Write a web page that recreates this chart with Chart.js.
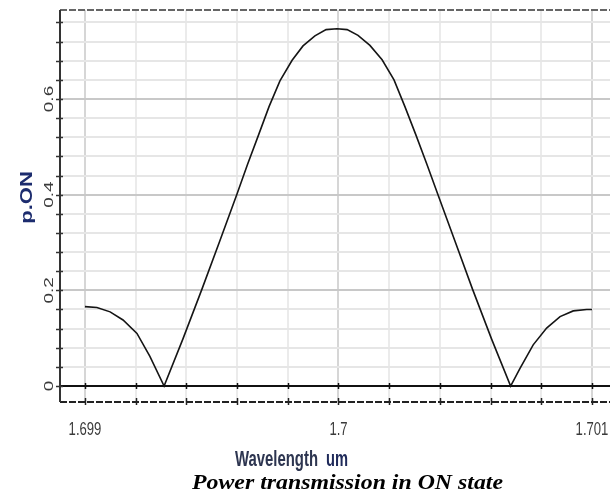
<!DOCTYPE html>
<html><head><meta charset="utf-8">
<script src="https://cdn.jsdelivr.net/npm/chart.js@4.4.1/dist/chart.umd.min.js"></script>
<style>html,body{margin:0;padding:0;background:#fff;}canvas{display:block;}</style>
</head><body>
<canvas id="c" width="610" height="493"></canvas>
<script>
// ---- data ----
const wavelength = [1.699000, 1.699047, 1.699099, 1.699150, 1.699205, 1.699256, 1.699312, 1.699386, 1.699461, 1.699531,
  1.699600, 1.699641, 1.699684, 1.699726, 1.699769, 1.699817, 1.699860, 1.699907, 1.699951, 1.699994,
  1.700034, 1.700077, 1.700124, 1.700172, 1.700219, 1.700262, 1.700306, 1.700349, 1.700391, 1.700460,
  1.700529, 1.700604, 1.700679, 1.700716, 1.700768, 1.700821, 1.700874, 1.700926, 1.700979, 1.701000];
const pON = [0.166, 0.164, 0.155, 0.138, 0.110, 0.062, 0.000, 0.098, 0.202, 0.302,
  0.402, 0.463, 0.524, 0.584, 0.638, 0.681, 0.711, 0.732, 0.745, 0.747,
  0.745, 0.733, 0.712, 0.682, 0.640, 0.584, 0.524, 0.463, 0.402, 0.302,
  0.202, 0.098, 0.000, 0.037, 0.086, 0.121, 0.145, 0.157, 0.160, 0.160];
const xMajorTicks = [1.699, 1.7, 1.701];
const xTickLabels = ['1.699', '1.7', '1.701'];
const xMinorStep = 0.0002;
const yMajorTicks = [0, 0.2, 0.4, 0.6];
const yTickLabels = ['0', '0.2', '0.4', '0.6'];
const yMinorStep = 0.04;
const xRange = [1.6989014, 1.7010710];
const yRange = [-0.03345, 0.78606];
const xAxisTitle = 'Wavelength';
const xAxisUnit = 'um';
const yAxisTitle = 'p.ON';
const caption = 'Power transmission in ON state';

function stepTicks(min, max, anchor, step) {
  const out = [];
  const k0 = Math.ceil((min - anchor) / step - 1e-9);
  for (let k = k0; anchor + k * step <= max + 1e-12; k++) out.push(+(anchor + k * step).toFixed(8));
  return out;
}
const isMajor = (arr, v) => arr.some(m => Math.abs(m - v) < 1e-9);

function line(ctx, x1, y1, x2, y2) { ctx.beginPath(); ctx.moveTo(x1, y1); ctx.lineTo(x2, y2); ctx.stroke(); }

function squishText(ctx, text, x, y, font, color, sx, rotate, align, baseline) {
  ctx.save();
  ctx.translate(x, y);
  ctx.scale(sx, 1);
  if (rotate) ctx.rotate(-Math.PI / 2);
  ctx.font = font; ctx.fillStyle = color;
  ctx.textAlign = align || 'center'; ctx.textBaseline = baseline || 'alphabetic';
  ctx.fillText(text, 0, 0);
  ctx.restore();
}
function fitText(ctx, text, left, baseline, font, color, width) {
  ctx.save();
  ctx.font = font;
  const w = ctx.measureText(text).width;
  ctx.translate(left, baseline);
  ctx.scale(width / w, 1);
  ctx.fillStyle = color; ctx.textAlign = 'left'; ctx.textBaseline = 'alphabetic';
  ctx.fillText(text, 0, 0);
  ctx.restore();
}

const decor = {
  id: 'decor',
  beforeDatasetsDraw(chart) {
    const { ctx, chartArea: a, scales: { x, y } } = chart;
    ctx.save();
    ctx.lineCap = 'butt';
    // zero line
    const y0 = y.getPixelForValue(0);
    ctx.strokeStyle = '#111'; ctx.lineWidth = 2;
    line(ctx, a.left, y0, a.right, y0);
    ctx.lineWidth = 1.5;
    x.ticks.forEach(t => { const px = Math.round(x.getPixelForValue(t.value)) + 0.5; line(ctx, px, y0 - 3, px, y0 + 3); });
    // top border (dashed)
    ctx.setLineDash([7, 2]);
    ctx.strokeStyle = '#666'; ctx.lineWidth = 2;
    line(ctx, a.left, a.top, a.right, a.top);
    // bottom border (dashed)
    ctx.strokeStyle = '#222';
    line(ctx, a.left, a.bottom, a.right, a.bottom);
    ctx.setLineDash([]);
    ctx.lineWidth = 1.5;
    x.ticks.forEach(t => { const px = Math.round(x.getPixelForValue(t.value)) + 0.5; line(ctx, px, a.bottom - 4, px, a.bottom + 3); });
    // left axis
    ctx.strokeStyle = '#333'; ctx.lineWidth = 2;
    line(ctx, a.left, a.top, a.left, a.bottom);
    ctx.lineWidth = 1.5;
    y.ticks.forEach(t => { const py = Math.round(y.getPixelForValue(t.value)) + 0.5; line(ctx, a.left - 4, py, a.left + 3, py); });
    ctx.restore();
  },
  afterDraw(chart) {
    const { ctx, chartArea: a, scales: { x, y } } = chart;
    // x tick labels
    xMajorTicks.forEach((v, i) => {
      squishText(ctx, xTickLabels[i], x.getPixelForValue(v), 435, '19px "Liberation Sans", Arial, sans-serif', '#3a3a3a', 0.69, false, 'center');
    });
    // y tick labels (rotated)
    yMajorTicks.forEach((v, i) => {
      squishText(ctx, yTickLabels[i], 52.5, y.getPixelForValue(v), '19px "Liberation Sans", Arial, sans-serif', '#3a3a3a', 0.68, true, 'center');
    });
    // y axis title
    squishText(ctx, yAxisTitle, 31.5, 197.5, 'bold 22px "Liberation Sans", Arial, sans-serif', '#1c2c6e', 0.74, true, 'center');
    // x axis title
    fitText(ctx, xAxisTitle, 235, 466, 'bold 22px "Liberation Sans", Arial, sans-serif', '#2d3550', 83);
    fitText(ctx, xAxisUnit, 326, 466, 'bold 22px "Liberation Sans", Arial, sans-serif', '#1f2a5a', 22);
    // caption
    fitText(ctx, caption, 192, 489, 'bold italic 21px "Liberation Serif", "Times New Roman", serif', '#000', 311);
  }
};

const xTicks = stepTicks(xRange[0], xRange[1], xMajorTicks[0], xMinorStep);
const yTicks = stepTicks(yRange[0], yRange[1], yMajorTicks[0], yMinorStep);

new Chart(document.getElementById('c'), {
  type: 'line',
  data: {
    datasets: [{
      data: wavelength.map((w, i) => ({ x: w, y: pON[i] })),
      borderColor: '#151515', borderWidth: 1.6, pointRadius: 0, tension: 0, fill: false
    }]
  },
  options: {
    responsive: false, animation: false, devicePixelRatio: 1,
    layout: { padding: { left: 60, top: 10, right: 0, bottom: 91 } },
    plugins: { legend: { display: false }, tooltip: { enabled: false } },
    scales: {
      x: {
        type: 'linear', min: xRange[0], max: xRange[1],
        afterBuildTicks: s => { s.ticks = xTicks.map(v => ({ value: v })); },
        ticks: { display: false },
        border: { display: false },
        grid: {
          drawTicks: false,
          color: c => isMajor(xMajorTicks, c.tick.value) ? '#d6d6d6' : '#ebebeb',
          lineWidth: 2
        }
      },
      y: {
        type: 'linear', min: yRange[0], max: yRange[1],
        afterBuildTicks: s => { s.ticks = yTicks.map(v => ({ value: v })); },
        ticks: { display: false },
        border: { display: false },
        grid: {
          drawTicks: false,
          color: c => Math.abs(c.tick.value) < 1e-9 ? 'rgba(0,0,0,0)' : (isMajor(yMajorTicks, c.tick.value) ? '#c8c8c8' : '#e6e6e6'),
          lineWidth: 2
        }
      }
    }
  },
  plugins: [decor]
});
</script>
</body></html>
